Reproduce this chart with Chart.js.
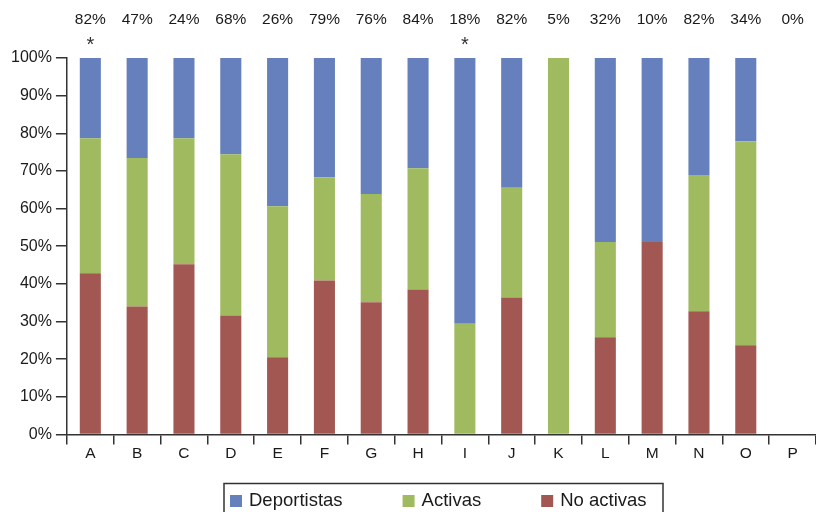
<!DOCTYPE html>
<html>
<head>
<meta charset="utf-8">
<script src="https://cdn.jsdelivr.net/npm/chart.js@4"></script>
<style>
  body { margin: 0; background: #fff; }
  #wrap { width: 816px; height: 512px; }
</style>
</head>
<body>
<div id="wrap"><canvas id="myChart" width="816" height="512"></canvas></div>
<script>
const categories = ['A', 'B', 'C', 'D', 'E', 'F', 'G', 'H', 'I', 'J', 'K', 'L', 'M', 'N', 'O', 'P'];
const noActivas   = [42.8, 34.0, 45.2, 31.6, 20.5, 40.9, 35.1, 38.5, 0, 36.4, 0, 25.8, 51.1, 32.7, 23.7, 0];
const activas     = [35.9, 39.4, 33.5, 42.8, 40.1, 27.4, 28.8, 32.2, 29.4, 29.1, 100, 25.3, 0, 36.2, 54.2, 0];
const deportistas = [21.3, 26.6, 21.3, 25.6, 39.4, 31.7, 36.1, 29.3, 70.6, 34.5, 0, 48.9, 48.9, 31.1, 22.1, 0];
const topLabels = ['82%', '47%', '24%', '68%', '26%', '79%', '76%', '84%', '18%', '82%', '5%', '32%', '10%', '82%', '34%', '0%'];
const marks     = ['*', '', '', '', '', '', '', '', '*', '', '', '', '', '', '', ''];

const font = 'Liberation Sans, Arial, Helvetica, sans-serif';
const ink = '#1a1a1a';

// percentages + asterisks above the bars
const topText = {
  id: 'topText',
  afterDraw(chart) {
    const ctx = chart.ctx;
    const x = chart.scales.x;
    ctx.save();
    ctx.fillStyle = ink;
    ctx.textAlign = 'center';
    categories.forEach((c, i) => {
      const px = x.getPixelForValue(i);
      ctx.font = '15.5px ' + font;
      ctx.textBaseline = 'middle';
      ctx.fillText(topLabels[i], px, 20);
      if (marks[i]) {
        ctx.font = '20px ' + font;
        ctx.fillStyle = '#333';
        ctx.textBaseline = 'alphabetic';
        ctx.fillText(marks[i], px, 51);
        ctx.fillStyle = ink;
      }
    });
    ctx.restore();
  }
};

// boxed legend at the bottom (legend order: top of stack first)
const boxLegend = {
  id: 'boxLegend',
  afterDraw(chart) {
    const ctx = chart.ctx;
    const items = chart.data.datasets.slice().reverse();
    ctx.save();
    ctx.font = '18.5px ' + font;
    ctx.textBaseline = 'middle';
    ctx.strokeStyle = '#333';
    ctx.lineWidth = 1.5;
    ctx.strokeRect(224, 483.5, 439, 40);
    let xx = 230;
    items.forEach(ds => {
      ctx.fillStyle = ds.backgroundColor;
      ctx.fillRect(xx, 495, 12, 12);
      ctx.fillStyle = ink;
      ctx.fillText(ds.label, xx + 19, 501);
      xx += 19 + ctx.measureText(ds.label).width + 60;
    });
    ctx.restore();
  }
};

const ctx = document.getElementById('myChart').getContext('2d');
const myChart = new Chart(ctx, {
  type: 'bar',
  data: {
    labels: categories,
    datasets: [
      { label: 'No activas', data: noActivas, backgroundColor: 'rgb(163, 87, 82)' },
      { label: 'Activas', data: activas, backgroundColor: 'rgb(160, 186, 95)' },
      { label: 'Deportistas', data: deportistas, backgroundColor: 'rgb(102, 128, 189)' }
    ]
  },
  options: {
    responsive: false,
    animation: false,
    devicePixelRatio: 1,
    barPercentage: 0.45,
    categoryPercentage: 1,
    layout: { padding: { top: 58, right: -5, bottom: 49, left: 7 } },
    plugins: {
      legend: { display: false },
      tooltip: { enabled: false }
    },
    scales: {
      x: {
        stacked: true,
        grid: { drawOnChartArea: false, color: '#333', lineWidth: 1.5, tickLength: 10 },
        border: { color: '#333', width: 1.5 },
        ticks: { color: ink, font: { family: font, size: 15.5 }, padding: 0 }
      },
      y: {
        stacked: true,
        min: 0,
        max: 100,
        grid: { drawOnChartArea: false, color: '#333', lineWidth: 1.5, tickLength: 11 },
        border: { color: '#333', width: 1.5 },
        ticks: {
          stepSize: 10,
          color: ink,
          font: { family: font, size: 16 },
          padding: 4,
          callback: v => v + '%'
        }
      }
    }
  },
  plugins: [topText, boxLegend]
});
</script>
</body>
</html>
